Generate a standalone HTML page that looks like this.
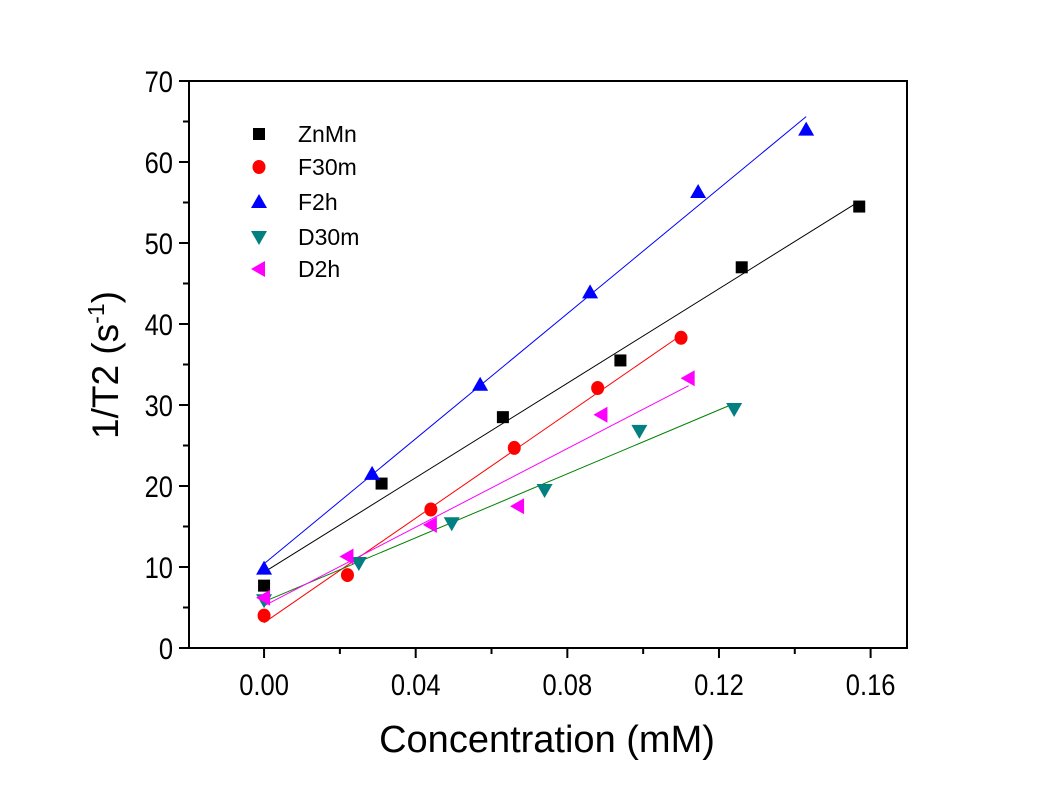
<!DOCTYPE html>
<html><head><meta charset="utf-8"><style>
body{margin:0;background:#fff}
svg{display:block;font-family:"Liberation Sans",Arial,sans-serif}
</style></head><body>
<svg id="c" width="1053" height="790"></svg>
<script>
const seriesNames=["ZnMn","F30m","F2h","D30m","D2h"];
const xZnMn=[0,0.031,0.063,0.094,0.126,0.157];
const yZnMn=[7.7,20.3,28.5,35.5,47,54.5];
const xF30m=[0,0.022,0.044,0.066,0.088,0.11];
const yF30m=[4,9,17.1,24.7,32.1,38.3];
const xF2h=[0,0.0285,0.057,0.086,0.1145,0.143];
const yF2h=[9.8,21.5,32.5,43.9,56.3,64];
const xD30m=[0,0.025,0.0495,0.074,0.099,0.124];
const yD30m=[5.9,10.5,15.4,19.5,26.8,29.5];
const xD2h=[0,0.022,0.044,0.067,0.089,0.112];
const yD2h=[6.2,11.3,15.2,17.5,28.8,33.3];
const xTicks=[0,0.04,0.08,0.12,0.16];
const xTickLabels=["0.00","0.04","0.08","0.12","0.16"];
const yTicks=[0,10,20,30,40,50,60,70];

const NS="http://www.w3.org/2000/svg",svg=document.getElementById('c');
const X0=189,X1=907,Y0=648,Y1=81,xmin=-0.0198,xmax=0.1696,ymin=0,ymax=70;
const sx=v=>X0+(v-xmin)/(xmax-xmin)*(X1-X0);
const sy=v=>Y0-(v-ymin)/(ymax-ymin)*(Y0-Y1);
function mk(t,a,p){const e=document.createElementNS(NS,t);for(const k in a)e.setAttribute(k,a[k]);(p||svg).appendChild(e);return e;}
const series=[
 {n:"ZnMn",x:xZnMn,y:yZnMn,mc:"#000",lc:"#000",m:"sq"},
 {n:"F30m",x:xF30m,y:yF30m,mc:"#f00",lc:"#f00",m:"ci"},
 {n:"F2h",x:xF2h,y:yF2h,mc:"#00f",lc:"#00f",m:"up"},
 {n:"D30m",x:xD30m,y:yD30m,mc:"#008080",lc:"#008000",m:"dn"},
 {n:"D2h",x:xD2h,y:yD2h,mc:"#f0f",lc:"#f0f",m:"lt"}];
function marker(type,cx,cy,col,g){
 let e;
 if(type=="sq")e=mk('rect',{x:cx-6,y:cy-6,width:12,height:12,fill:col},g);
 else if(type=="ci")e=mk('ellipse',{cx:cx,cy:cy,rx:6.5,ry:7,fill:col},g);
 else if(type=="up")e=mk('polygon',{points:`${cx},${cy-8} ${cx-8},${cy+6} ${cx+8},${cy+6}`,fill:col},g);
 else if(type=="dn")e=mk('polygon',{points:`${cx},${cy+8} ${cx-8},${cy-6} ${cx+8},${cy-6}`,fill:col},g);
 else e=mk('polygon',{points:`${cx-8},${cy} ${cx+6},${cy-8} ${cx+6},${cy+8}`,fill:col},g);
 return e;
}
series.forEach(s=>{
 const n=s.x.length;let mx=0,my=0;for(let i=0;i<n;i++){mx+=s.x[i];my+=s.y[i];}mx/=n;my/=n;
 let sxy=0,sxx=0;for(let i=0;i<n;i++){sxy+=(s.x[i]-mx)*(s.y[i]-my);sxx+=(s.x[i]-mx)**2;}
 const b=sxy/sxx,a=my-b*mx,xa=Math.min(...s.x),xb=Math.max(...s.x);
 const l=mk('line',{x1:sx(xa),y1:sy(a+b*xa),x2:sx(xb),y2:sy(a+b*xb),stroke:s.lc,'stroke-width':1});
 
 
});
series.forEach(s=>{
 const g=mk('g',{});
 
 
 s.x.forEach((v,i)=>{const m=marker(s.m,sx(v),sy(s.y[i]),s.mc,g);
  
  });
});
const ax=mk('g',{stroke:'#000','stroke-width':2,fill:'none'});


mk('rect',{x:X0,y:Y1,width:X1-X0,height:Y0-Y1},ax);
xTicks.forEach((v,i)=>{
 mk('line',{x1:sx(v),y1:Y0,x2:sx(v),y2:Y0+10},ax);
 const t=mk('text',{transform:`translate(${sx(v)},${Y0+47}) scale(0.85,1)`,'text-anchor':'middle','font-size':30,fill:'#000'});t.textContent=xTickLabels[i];
 
 
 const m=v-0.02;if(m>xmin-1e-9)mk('line',{x1:sx(m),y1:Y0,x2:sx(m),y2:Y0+6},ax);
});
yTicks.forEach((v,i)=>{
 mk('line',{x1:X0,y1:sy(v),x2:X0-10,y2:sy(v)},ax);
 if(i<yTicks.length-1)mk('line',{x1:X0,y1:sy(v+5),x2:X0-6,y2:sy(v+5)},ax);
 const t=mk('text',{transform:`translate(${X0-16},${sy(v)+11}) scale(0.85,1)`,'text-anchor':'end','font-size':30,fill:'#000'});t.textContent=v;
 
 
});
const xt=mk('text',{x:547,y:752,'text-anchor':'middle','font-size':38,fill:'#000'});xt.textContent="Concentration (mM)";


const yt=mk('text',{transform:'translate(118,365) rotate(-90)','text-anchor':'middle','font-size':37,fill:'#000'});
yt.innerHTML='1/T2 (s<tspan dy="-14" font-size="23">-1</tspan><tspan dy="14">)</tspan>';


const ly=[134,167,202,237,269];
series.forEach((s,i)=>{
 const g=mk('g',{});
 
 
 marker(s.m,259,ly[i],s.mc,g);
 const t=mk('text',{x:298,y:ly[i]+8,'font-size':23,fill:'#000'},g);t.textContent=s.n;
});
</script>
</body></html>
